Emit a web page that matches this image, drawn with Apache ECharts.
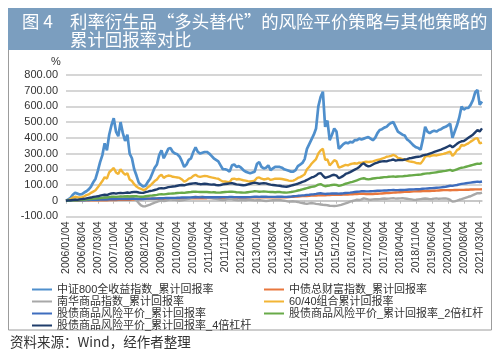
<!DOCTYPE html>
<html>
<head>
<meta charset="utf-8">
<script src="https://cdn.jsdelivr.net/npm/echarts@6/dist/echarts.min.js"></script>
<style>
html,body{margin:0;padding:0;background:#fff;}
#c{width:500px;height:357px;}
</style>
</head>
<body>
<div id="c"></div>
<script>
// Monthly categories 2006/01/04 ... 2021/04/04
const startYear = 2006, startMonth = 1, monthCount = 184;
const categories = [];
for (let i = 0; i < monthCount; i++) {
  const y = startYear + Math.floor((startMonth - 1 + i) / 12);
  const m = ((startMonth - 1 + i) % 12) + 1;
  categories.push(y + '/' + (m < 10 ? '0' + m : m) + '/04');
}

const seriesNames = [
  '中证800全收益指数_累计回报率',
  '中债总财富指数_累计回报率',
  '南华商品指数_累计回报率',
  '60/40组合累计回报率',
  '股债商品风险平价_累计回报率',
  '股债商品风险平价_累计回报率_2倍杠杆',
  '股债商品风险平价_累计回报率_4倍杠杆'
];

const csi800 = [
  0,8,18,38,50,45,40,42,52,60,72,90,
  118,140,190,245,290,365,320,420,480,525,440,410,
  500,430,380,420,300,270,200,160,115,100,90,95,
  120,140,175,210,230,290,320,270,300,330,335,310,
  300,295,280,250,215,230,260,270,310,340,310,300,
  305,310,310,300,285,270,260,250,225,200,200,195,
  185,225,230,215,220,210,195,185,180,175,180,185,
  235,245,215,205,210,225,195,205,215,215,215,210,
  200,195,190,185,185,195,220,230,240,265,330,360,
  390,420,460,600,660,694,470,510,385,420,460,440,
  330,345,360,370,365,375,370,385,385,395,390,395,
  400,405,395,385,400,430,450,455,465,470,485,495,
  500,470,440,430,420,415,390,380,365,350,340,335,
  325,390,470,440,430,440,445,440,450,455,465,470,
  480,490,400,440,480,530,600,580,590,590,610,640,
  690,705,610,632
];
const bondIndex = [
  0,0,0,1,1,1,1,2,2,2,2,3,
  3,3,3,3,3,3,3,4,4,4,4,5,
  5,5,5,6,6,7,8,9,10,11,12,13,
  12,12,12,12,12,12,12,12,13,13,13,13,
  13,14,14,14,14,15,15,15,15,15,15,16,
  16,16,16,17,17,17,18,18,18,19,19,19,
  20,20,20,20,20,20,20,20,20,21,21,21,
  21,21,21,21,21,21,21,21,21,21,22,22,
  22,22,23,24,25,26,27,28,29,29,30,31,
  32,33,33,34,34,35,35,36,36,37,37,38,
  38,38,39,39,39,40,41,42,43,44,44,44,
  43,43,43,43,44,44,45,46,47,48,49,50,
  51,52,53,54,55,56,57,57,58,59,59,60,
  60,61,61,62,62,63,63,64,65,66,67,67,
  67,66,67,68,68,69,69,69,70,70,71,71,
  72,72,72,73
];
const nanhua = [
  0,2,4,6,8,5,6,4,2,5,8,10,
  8,10,12,14,12,15,14,18,20,22,18,20,
  24,26,28,26,25,22,12,2,-15,-30,-36,-35,
  -30,-25,-18,-12,-8,-2,2,-2,0,5,8,6,
  5,2,0,3,5,8,12,18,22,25,22,24,
  26,22,20,18,16,14,12,8,5,4,6,10,
  12,10,6,4,2,5,4,3,5,6,4,2,
  3,4,2,0,-2,0,2,3,4,5,4,2,
  0,-3,-6,-5,-4,-6,-8,-12,-15,-18,-20,-17,
  -15,-17,-20,-22,-24,-26,-27,-29,-32,-33,-34,-33,
  -30,-27,-22,-17,-12,-6,-2,2,6,4,8,15,
  12,8,6,8,10,9,10,12,14,12,13,15,
  16,13,14,15,16,14,12,10,8,5,6,8,
  10,12,14,12,10,11,13,15,12,13,14,15,
  12,5,-6,-4,0,6,10,15,20,25,28,35,
  42,48,47,52
];
const mix6040 = [
  0,4,10,20,25,22,20,22,28,35,40,50,
  58,66,85,105,125,150,140,180,195,208,180,170,
  200,180,165,175,135,125,105,90,80,75,68,72,
  85,95,110,125,135,155,165,145,155,160,158,152,
  150,148,145,135,122,128,140,145,158,165,155,152,
  155,158,156,152,148,145,142,140,130,122,122,120,
  118,138,140,135,138,134,130,128,125,122,125,128,
  145,148,140,135,138,142,132,136,140,140,140,138,
  135,132,128,126,128,135,145,150,158,168,200,215,
  235,250,265,300,320,330,260,262,225,240,258,250,
  210,215,222,228,225,232,236,238,236,242,240,245,
  248,246,248,250,255,260,262,268,272,280,282,285,
  291,285,272,270,265,262,255,250,248,245,240,238,
  236,255,280,285,282,288,290,288,292,295,298,302,
  308,313,285,300,322,330,355,350,358,365,376,385,
  395,398,365,370
];
const riskParity1x = [
  0,0,1,1,2,2,2,3,3,4,4,5,
  5,6,6,7,7,8,8,9,9,10,9,10,
  10,10,11,11,11,12,12,12,11,11,11,12,
  13,13,14,14,15,16,16,16,17,17,18,18,
  18,19,19,20,20,20,21,21,22,22,22,21,
  22,22,22,22,22,22,22,22,22,23,23,23,
  24,24,23,23,22,22,22,22,23,23,24,25,
  25,24,25,25,25,24,24,24,24,25,25,25,
  24,24,25,26,28,29,31,32,34,35,37,38,
  40,41,43,46,47,45,43,44,45,46,46,46,
  45,46,47,49,50,51,53,55,57,58,60,61,
  59,59,60,61,62,63,63,64,65,65,66,67,
  68,67,67,68,68,69,70,71,71,72,73,73,
  74,76,77,78,79,80,81,82,83,85,87,89,
  92,95,94,97,100,104,107,109,111,113,115,117,
  119,121,119,122
];
const riskParity2x = [
  0,1,2,3,4,3,5,6,7,8,10,11,
  13,14,15,17,19,21,20,23,25,26,24,26,
  27,26,27,28,27,28,29,28,26,25,25,28,
  30,32,33,35,37,40,41,40,42,44,45,46,
  47,49,50,51,50,52,54,55,57,58,56,55,
  55,56,55,54,53,54,52,51,52,54,55,56,
  57,58,56,54,53,52,51,52,54,56,58,60,
  59,57,58,59,58,56,55,55,54,55,55,53,
  52,51,53,55,58,61,65,68,72,76,80,84,
  88,90,95,102,106,98,92,95,97,100,102,100,
  94,98,102,108,112,116,120,125,130,135,140,143,
  138,136,138,141,143,145,146,148,150,150,152,153,
  155,152,154,155,155,157,158,160,161,163,164,165,
  166,170,172,174,175,177,179,181,184,186,188,190,
  193,196,190,194,200,206,210,212,216,220,224,228,
  232,236,234,240
];
const riskParity4x = [
  0,2,3,5,6,5,8,10,12,15,18,20,
  24,26,28,32,35,38,36,42,46,48,45,48,
  50,48,50,52,50,54,56,55,52,50,50,55,
  58,62,64,68,72,78,80,78,82,86,88,90,
  92,95,98,100,98,102,106,108,110,112,108,105,
  106,108,106,104,102,104,100,98,100,104,106,108,
  110,112,108,104,102,100,98,100,104,108,112,115,
  112,108,110,112,110,106,102,100,98,96,95,92,
  90,89,92,96,100,104,108,114,120,125,132,140,
  148,152,160,172,176,160,145,150,155,162,165,160,
  143,150,158,170,175,182,190,198,205,215,230,238,
  225,218,222,230,238,242,248,250,252,250,255,258,
  262,255,258,260,258,262,265,270,272,275,278,280,
  282,288,292,295,300,305,310,315,320,325,332,338,
  345,352,340,350,362,372,378,380,390,400,410,420,
  435,450,440,460
];

const seriesData = [csi800, bondIndex, nanhua, mix6040, riskParity1x, riskParity2x, riskParity4x];
const colors = ['#4f8fcc', '#e8773d', '#a8a8a8', '#f2b535', '#3e6dbe', '#68aa49', '#1f3d6b'];
const yTicks = { min: -100, max: 800, interval: 100 };

const latin = "'Liberation Sans', 'Noto Sans CJK SC', sans-serif";
const cjk = "'Noto Sans CJK SC', 'Liberation Sans', sans-serif";
const titleSize = 17.4;

const chart = echarts.init(document.getElementById('c'), null, { renderer: 'canvas' });

const option = {
  animation: false,
  backgroundColor: '#fff',
  color: colors,
  grid: { left: 66, right: 18, top: 75, bottom: 140.6, containLabel: false },
  xAxis: [
    {
      type: 'category', data: categories, boundaryGap: false,
      position: 'bottom',
      axisLine: { onZero: true, lineStyle: { color: '#c4c4c4', width: 1.5 } },
      axisTick: { show: true, interval: 6, length: 3, lineStyle: { color: '#bdbdbd' } },
      axisLabel: { show: false },
      splitLine: { show: false }
    },
    {
      type: 'category', data: categories, boundaryGap: false,
      position: 'bottom',
      axisLine: { show: false, onZero: false },
      axisTick: { show: false },
      axisLabel: {
        interval: 6, rotate: 90, margin: 5,
        color: '#333', fontSize: 10.5, fontFamily: latin
      },
      splitLine: { show: false }
    }
  ],
  yAxis: {
    type: 'value', min: yTicks.min, max: yTicks.max, interval: yTicks.interval,
    axisLine: { show: false }, axisTick: { show: false },
    axisLabel: {
      margin: 8, color: '#333', fontSize: 11, fontFamily: latin,
      formatter: v => (v === 0 ? '0' : v.toFixed(2))
    },
    splitLine: { lineStyle: { color: '#c8c8c8', width: 1.5 } }
  },
  legend: [
    {
      orient: 'vertical', left: 27, top: 278.5, itemGap: 0,
      itemWidth: 20, itemHeight: 2, icon: 'rect',
      textStyle: { fontSize: 11, lineHeight: 12, color: '#333', fontFamily: latin },
      data: [seriesNames[0], seriesNames[2], seriesNames[4], seriesNames[6]]
    },
    {
      orient: 'vertical', left: 259, top: 278.5, itemGap: 0,
      itemWidth: 20, itemHeight: 2, icon: 'rect',
      textStyle: { fontSize: 11, lineHeight: 12, color: '#333', fontFamily: latin },
      data: [seriesNames[1], seriesNames[3], seriesNames[5]]
    }
  ],
  series: seriesNames.map((name, i) => ({
    name: name, type: 'line', xAxisIndex: 0, yAxisIndex: 0,
    data: seriesData[i], showSymbol: false, symbol: 'none',
    lineStyle: { width: i === 0 ? 2.7 : 2.4, color: colors[i] },
    itemStyle: { color: colors[i] },
    z: 2 + i
  })),
  graphic: [
    { type: 'rect', shape: { x: 8.5, y: 49.5, width: 483, height: 280.5 },
      style: { fill: 'none', stroke: '#9c9c9c', lineWidth: 1 }, z: 0 },
    { type: 'rect', shape: { x: 8, y: 8, width: 484, height: 42 },
      style: { fill: '#7b9ebf' }, z: 1 },
    { type: 'text', x: 22, y: 21, z: 2,
      style: { text: '图 4', fill: '#fff', font: titleSize + "px " + cjk, verticalAlign: 'middle' } },
    { type: 'text', x: 70, y: 21, z: 2,
      style: {
        text: '利率衍生品{qo|“}多头替代{qc|”}的风险平价策略与其他策略的',
        fill: '#fff', font: titleSize + "px " + cjk, verticalAlign: 'middle',
        rich: {
          qo: { width: titleSize, align: 'right', fill: '#fff', font: titleSize + "px " + cjk },
          qc: { width: titleSize, align: 'left', fill: '#fff', font: titleSize + "px " + cjk }
        }
      } },
    { type: 'text', x: 70, y: 39.5, z: 2,
      style: { text: '累计回报率对比', fill: '#fff', font: titleSize + "px " + cjk, verticalAlign: 'middle' } },
    { type: 'text', x: 51, y: 62, z: 2,
      style: { text: '%', fill: '#333', font: "11px " + latin, verticalAlign: 'middle' } },
    { type: 'text', x: 10, y: 342, z: 2,
      style: { text: '资料来源：Wind，经作者整理', fill: '#333', font: "13.5px " + cjk, verticalAlign: 'middle' } }
  ]
};
chart.setOption(option);
</script>
</body>
</html>
